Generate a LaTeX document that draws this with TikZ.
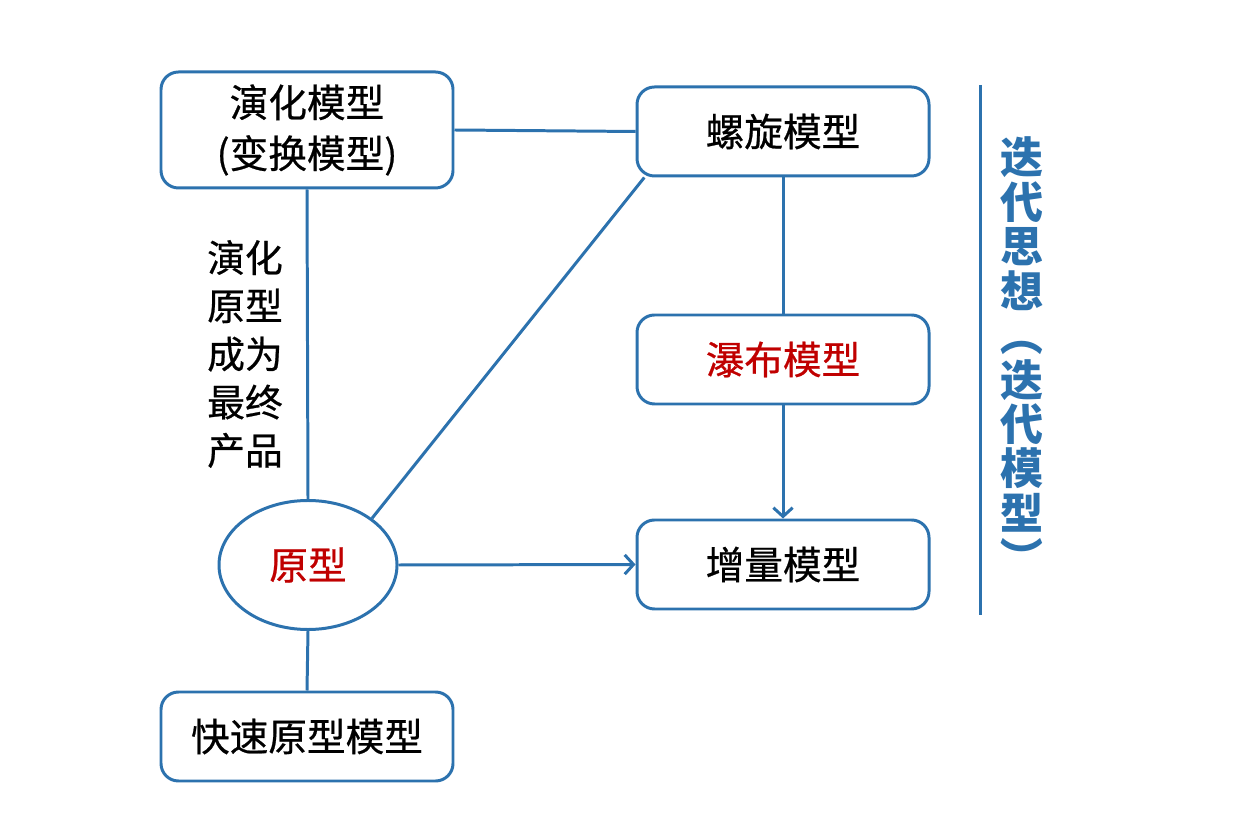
\documentclass[tikz,border=0pt]{standalone}
\usepackage{fontspec}
\setmainfont{Noto Sans CJK SC}
\newfontfamily\cjkmid{Noto Sans CJK SC}[FakeBold=0.6]
\usetikzlibrary{shapes.geometric,arrows.meta}
\definecolor{lineblue}{RGB}{44,114,174}
\definecolor{darkred}{RGB}{192,0,0}

\begin{document}
\begin{tikzpicture}[
    modelbox/.style={draw=lineblue, line width=1.7pt, rounded corners=0.35cm,
      minimum width=5.84cm, minimum height=1.78cm, align=center,
      font=\cjkmid\fontsize{22}{29}\selectfont},
    link/.style={draw=lineblue, line width=1.7pt},
    arrowlink/.style={link, -{Straight Barb[length=5pt,width=11pt]}}
  ]
  \useasboundingbox (0,0) rectangle (25.2,16.48);

  % Modelli
  \node[modelbox, minimum height=2.32cm] (yh) at (6.14,13.88) {演化模型\\(变换模型)};
  \node[modelbox] (lx) at (15.66,13.85) {螺旋模型};
  \node[modelbox, text=darkred] (pb) at (15.66,9.29) {瀑布模型};
  \node[modelbox] (zl) at (15.66,5.19) {增量模型};
  \node[modelbox] (ks) at (6.14,1.75) {快速原型模型};

  % Prototipo
  \node[ellipse, draw=lineblue, line width=1.7pt, minimum width=3.56cm,
    minimum height=2.58cm, inner sep=0pt, text=darkred,
    font=\cjkmid\fontsize{22}{29}\selectfont] (yx) at (6.16,5.18) {原型};

  % Testo laterale
  \node[align=center, font=\cjkmid\fontsize{21.5}{27.4}\selectfont] (note) at (4.9,9.4)
    {演化\\原型\\成为\\最终\\产品};

  % Iterazione
  \coordinate (septop) at (19.6,14.78);
  \coordinate (sepbot) at (19.6,4.18);
  \draw[link] (septop) -- (sepbot);
  \node[align=center, text=lineblue, font=\bfseries\fontsize{24.5}{25.3}\selectfont] (iter) at (20.44,9.32)
    {迭\\代\\思\\想\\\rotatebox[origin=c]{-90}{（}\\迭\\代\\模\\型\\\rotatebox[origin=c]{-90}{）}};

  % Collegamenti
  \draw[link] (yh.east) -- (lx.west);
  \draw[link] (yh.south) -- (yx.north);
  \draw[link] (yx.south) -- (ks.north);
  \draw[link] (yx.north east) -- ([xshift=5pt]lx.south west);
  \draw[link] (lx.south) -- (pb.north);
  \draw[arrowlink] (pb.south) -- (zl.north);
  \draw[arrowlink] (yx.east) -- (zl.west);
\end{tikzpicture}
\end{document}
